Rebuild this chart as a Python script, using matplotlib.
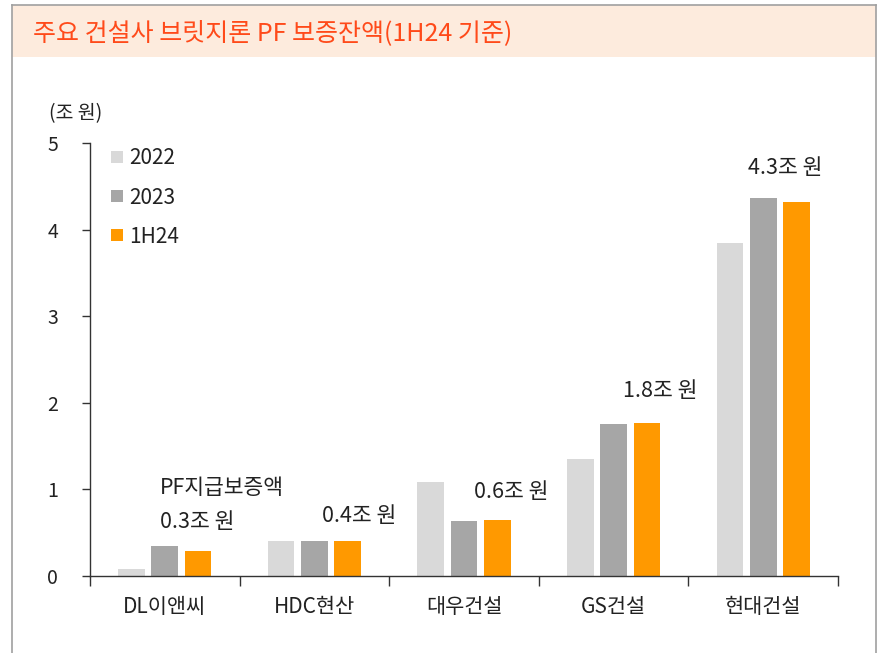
import matplotlib
matplotlib.use("Agg")
import matplotlib.pyplot as plt
from matplotlib.patches import Rectangle
from matplotlib.lines import Line2D
import numpy as np

plt.rcParams['font.family'] = ['Noto Sans CJK KR', 'DejaVu Sans']

categories = ['DL이앤씨', 'HDC현산', '대우건설', 'GS건설', '현대건설']
series_names = ['2022', '2023', '1H24']
v2022 = [0.08, 0.40, 1.08, 1.35, 3.84]
v2023 = [0.35, 0.40, 0.64, 1.76, 4.36]
v1h24 = [0.29, 0.40, 0.65, 1.77, 4.32]
colors = ['#D9D9D9', '#A6A6A6', '#FF9900']
yticks = [0, 1, 2, 3, 4, 5]

annotations = [
    ('PF지급보증액', -0.03, 1.02),
    ('0.3조 원', -0.03, 0.62),
    ('0.4조 원', 1.05, 0.69),
    ('0.6조 원', 2.07, 0.97),
    ('1.8조 원', 3.06, 2.14),
    ('4.3조 원', 3.90, 4.71),
]

W, H = 878, 653
fig = plt.figure(figsize=(W / 100, H / 100), dpi=100)

def fx(px):
    return px / W

def fy(py):
    return 1 - py / H

# title band
fig.patches.append(Rectangle((fx(12), fy(57)), fx(876) - fx(12), fy(5) - fy(57),
                             transform=fig.transFigure, facecolor='#FDEBDD',
                             edgecolor='none', zorder=0))
for (x0, y0, x1, y1) in [(12, 5, 876, 5), (12, 5, 12, 653), (876, 5, 876, 653)]:
    fig.lines.append(Line2D([fx(x0), fx(x1)], [fy(y0), fy(y1)], transform=fig.transFigure,
                            color='#A0A0A0', linewidth=1.2))
fig.text(fx(33), fy(33), '주요 건설사 브릿지론 PF 보증잔액(1H24 기준)', color='#FF4A1A',
         fontsize=18, va='center', ha='left')

ax = fig.add_axes([fx(90), fy(576), fx(838) - fx(90), fy(143) - fy(576)])
x = np.arange(len(categories))
step = 0.223
width = 0.178
handles = []
for i, (vals, c, name) in enumerate(zip([v2022, v2023, v1h24], colors, series_names)):
    b = ax.bar(x + (i - 1) * step, vals, width=width, color=c, label=name, zorder=2)
    handles.append(b)

ax.set_xlim(-0.5, len(categories) - 0.5)
ax.set_ylim(0, 5)
ax.set_yticks(yticks)
ax.set_yticklabels([str(t) for t in yticks], fontsize=14, color='#222222')
ax.tick_params(axis='y', direction='out', length=6, pad=17, width=1, color='#333333')

ax.set_xticks(np.arange(len(categories) + 1) - 0.5)
ax.set_xticklabels([])
ax.tick_params(axis='x', direction='out', length=7, width=1, color='#333333')
for i, c in enumerate(categories):
    ax.text(i, -0.355, c, ha='center', va='center', fontsize=15, color='#222222')

for s in ['top', 'right']:
    ax.spines[s].set_visible(False)
for s in ['left', 'bottom']:
    ax.spines[s].set_color('#333333')
    ax.spines[s].set_linewidth(1)

fig.text(fx(49), fy(114), '(조 원)', fontsize=14, va='center', ha='left', color='#222222')

for t, xx, yy in annotations:
    ax.text(xx, yy, t, ha='left', va='center', fontsize=15.5, color='#222222')

leg = ax.legend(handles=handles, loc='upper left', bbox_to_anchor=(fx(101), fy(137)),
                bbox_transform=fig.transFigure, frameon=False, fontsize=15,
                handlelength=0.55, handleheight=0.55, handletextpad=0.3,
                labelspacing=0.82, borderpad=0)
for t in leg.get_texts():
    t.set_color('#222222')

fig.savefig('out.png', dpi=100)
